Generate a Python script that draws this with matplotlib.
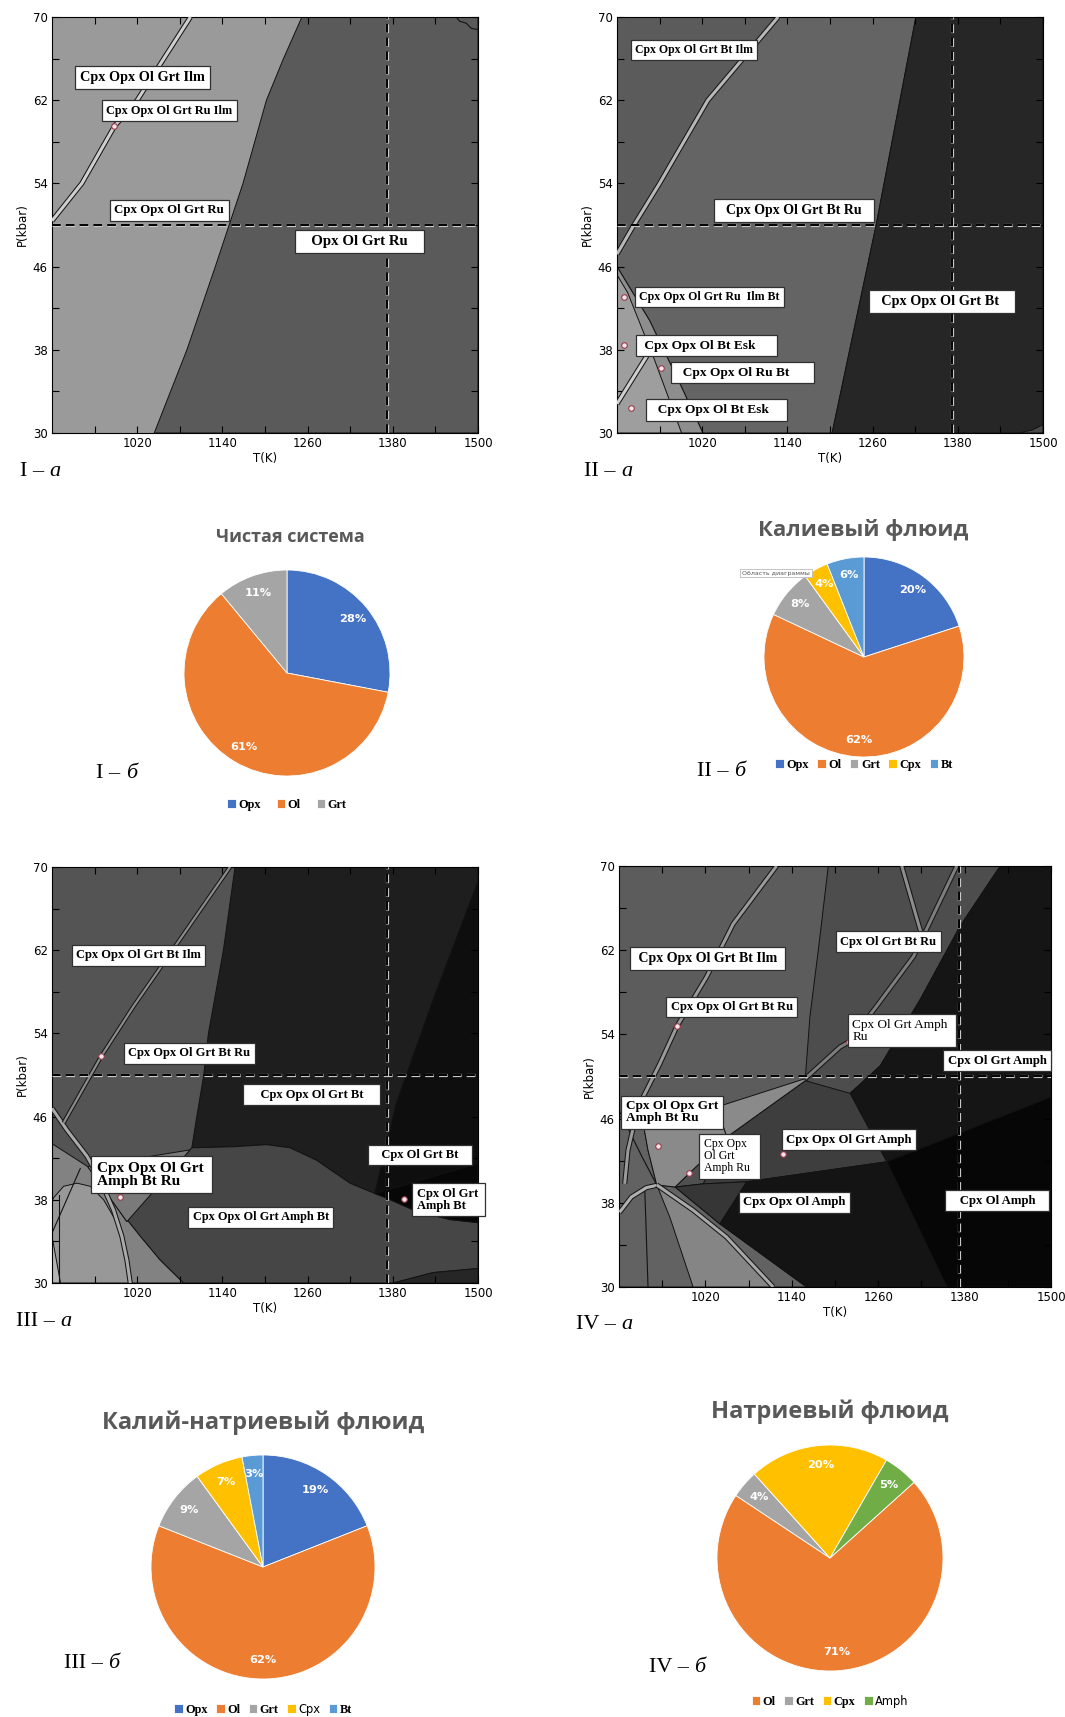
import matplotlib
matplotlib.use('Agg')
import matplotlib.pyplot as plt
import matplotlib.patheffects as pe
from matplotlib.text import Annotation

W, H = 1065, 1717

# ---------- diagram I : pure system (T, P points of phase boundaries) ----------
I_opx_edge = [(1044, 30), (1090, 38), (1130, 46), (1169, 54), (1202, 62), (1226, 66), (1252, 70)]
I_ilm_band = [(900, 50.4), (942, 54), (988, 59.5), (1020, 62), (1095, 70)]
I_corner = [(1469.5, 70), (1474, 69.6), (1483.6, 69.4), (1490.6, 68.9), (1500, 68.8)]
I_points = [(988, 59.5)]
I_labels = [(1027.0, 64.2, 'Cpx Opx Ol Grt Ilm', 10.3, True),
            (1065.2, 61.0, 'Cpx Opx Ol Grt Ru Ilm', 8.8, True),
            (1065.2, 51.4, 'Cpx Opx Ol Grt Ru', 9.3, True),
            (1333.1, 48.4, '   Opx Ol Grt Ru   ', 10.7, True)]

# ---------- diagram II : potassic fluid ----------
II_bt_edge = [(1203, 30), (1265, 50), (1321, 70)]
II_ilm_band = [(900, 47.2), (923, 49.9), (960, 54), (1028, 62), (1127, 70)]
II_esk_outer = [(900, 46.0), (946, 40.8), (991, 34.4), (1021, 30)]
II_esk_inner = [(900, 45.2), (915, 43.5), (953, 37), (991, 30)]
II_esk_band = [(900, 32.8), (953, 38.6)]
II_corner = [(1467, 30), (1485, 30.3), (1500, 30.8)]
II_points = [(909.4, 43.1), (909.4, 38.5), (962.4, 36.25), (919.2, 32.4)]
II_labels = [(1008.5, 66.8, 'Cpx Opx Ol Grt Bt Ilm', 8.5, True),
             (1149.3, 51.4, '  Cpx Opx Ol Grt Bt Ru  ', 10, True),
             (1357.7, 42.6, '  Cpx Opx Ol Grt Bt   ', 10.3, True),
             (1030.5, 43.05, 'Cpx Opx Ol Grt Ru  Ilm Bt', 8.6, True),
             (1025.8, 38.4, ' Cpx Opx Ol Bt Esk     ', 9.6, True),
             (1076.5, 35.8, '  Cpx Opx Ol Ru Bt      ', 9.6, True),
             (1040.4, 32.2, '  Cpx Opx Ol Bt Esk    ', 9.6, True)]

# ---------- diagram III : potassium-sodium fluid ----------
III_opx_edge = [(1157.8, 70), (1141.4, 62), (1120.3, 54), (1113.3, 49.8), (1103.9, 46), (1096.9, 43.0)]
III_amph_top = [(1005.5, 36.1), (1096.9, 43.0), (1155.5, 43.1), (1202.3, 43.3), (1235.2, 43.0),
                (1272.7, 41.8), (1319.5, 39.6), (1354.7, 38.6), (1366.4, 38.3), (1413.3, 36.9),
                (1460.2, 36.1), (1500, 35.8)]
III_opx_out = [(1354.7, 38.6), (1385.2, 47.3), (1436.7, 57.2), (1500, 68.6)]
III_bt_edge = [(1354.7, 38.6), (1500, 41.5)]
III_amph_left = [(1085.2, 30), (1052.3, 32.2), (1024.2, 34.5), (1005.5, 36.1)]
III_low_edge = [(1380.5, 30), (1436.7, 31.0), (1500, 31.4)]
III_ru_wedge = [(950.2, 41.2), (1094.5, 42.8), (1005.5, 35.9)]
III_left_top = [(900, 43.4)]
III_arch = [(900, 37.8), (902.3, 38.2), (916.4, 39.3), (935.2, 39.6), (953.9, 39.3), (972.7, 38.0),
            (991.4, 35.8), (1003.1, 33.2), (1012.5, 30)]
III_desc = [(900, 46.8), (921.1, 44.7), (949.2, 42.2), (968, 39.9), (986.7, 37.0), (998.4, 34.5),
            (1005.5, 32.2), (1010.2, 30)]
III_ilm_band = [(916.4, 45.4), (969.4, 51.8), (1014.8, 56.6), (1075.8, 62.6), (1150.8, 70)]
III_rise = [(900, 34.8), (939.8, 41.0)]
III_vert = [(909.4, 38.5), (909.4, 30)]
III_corner = [(900, 34.5), (912, 30), (900, 30)]
III_points = [(969.4, 51.8), (996, 38.3), (1395.5, 38.1)]
III_labels = [(1022, 61.5, 'Cpx Opx Ol Grt Bt Ilm', 9.0, True),
              (1093.6, 52.1, 'Cpx Opx Ol Grt Bt Ru', 9.0, True),
              (1266, 48.1, '    Cpx Opx Ol Grt Bt    ', 9.0, True),
              (1418, 42.3, '   Cpx Ol Grt Bt   ', 9.0, True),
              (1458.8, 38.0, 'Cpx Ol Grt \nAmph Bt', 9.0, True),
              (1040.6, 40.4, 'Cpx Opx Ol Grt \nAmph Bt Ru', 11.0, True),
              (1194, 36.3, 'Cpx Opx Ol Grt Amph Bt', 8.8, True)]

# ---------- diagram IV : sodic fluid ----------
IV_ru_edge = [(1190.7, 70), (1176.8, 62.0), (1165.2, 55.7), (1158.7, 49.8)]
IV_amph_edge = [(1429.5, 70), (1373.9, 64.3), (1318.2, 57.3), (1262.6, 51.0), (1220.9, 48.4), (1271.9, 41.9)]
IV_grt_edge = [(1271.9, 41.9), (1500, 48.05)]
IV_opx_edge = [(1271.9, 41.9), (1355.3, 30)]
IV_grt_amph = [(1049.8, 44.25), (1158.7, 49.6), (1220.9, 48.4), (1271.9, 41.9), (1077.1, 40.0), (1016.8, 39.8)]
IV_amph_ru = [(1049.8, 44.25), (1016.8, 39.8), (977.9, 39.5)]
IV_opx_amph = [(1077.1, 40.0), (1271.9, 41.9), (1355.3, 30), (1160.6, 30), (1040, 36.0)]
IV_mid = [(977.9, 39.5), (1016.8, 39.8), (1077.1, 40.0), (1040, 36.0)]
IV_bt_ru = [(931.1, 46.5), (1035.9, 47.1), (1049.8, 44.25), (977.9, 39.5), (952.4, 39.7), (940.3, 43.0)]
IV_wedge = [(1158.7, 49.8), (1035.9, 47.1), (1049.8, 44.25), (1158.7, 49.6)]
IV_low = [(900, 46.15), (931.1, 46.5), (940.3, 43.0), (952.4, 39.7), (977.9, 39.5), (1040, 36.0),
          (1160.6, 30), (900, 30)]
IV_fan = [(952.4, 39.7), (1002.9, 37.3), (1049.3, 34.75), (1114.2, 30), (1002.9, 30), (970.5, 36.65)]
IV_fan_band = [(952.4, 39.7), (1002.9, 37.3), (1049.3, 34.75), (1114.2, 30)]
IV_arc = [(900.9, 37.1), (917.2, 38.55), (938.0, 39.44), (952.4, 39.66)]
IV_vert = [(935.7, 39.5), (940.3, 30)]
IV_desc = [(900, 46.8), (931, 42.5), (952.4, 39.7)]
IV_ilm_band = [(907.9, 39.8), (912.5, 43.0), (923.2, 46.15), (928.7, 47.4), (956.6, 51.2), (980.7, 54.8),
               (1021.5, 59.45), (1058.6, 64.5), (1118.9, 70)]
IV_ru_band = [(1158.7, 49.8), (1207, 52.8), (1219.9, 53.3), (1258, 56.7), (1309, 61.4), (1369.2, 70)]
IV_bt_band = [(1292.7, 70), (1318.2, 63.95), (1322, 63.3)]
IV_points = [(980.7, 54.8), (1219.9, 53.3), (954.7, 43.4), (997.8, 40.8), (1127.7, 42.6)]
IV_labels = [(1022.9, 61.2, ' Cpx Opx Ol Grt Bt Ilm ', 10.0, True),
             (1056.3, 56.6, 'Cpx Opx Ol Grt Bt Ru', 9.0, True),
             (1274.2, 62.8, 'Cpx Ol Grt Bt Ru', 9.0, True),
             (1292.7, 54.35, 'Cpx Ol Grt Amph \nRu', 9.5, False),
             (1425.3, 51.5, 'Cpx Ol Grt Amph', 9.2, True),
             (973.7, 46.6, 'Cpx Ol Opx Grt\nAmph Bt Ru', 9.5, True),
             (1053.5, 42.4, 'Cpx Opx   \nOl Grt\nAmph Ru ', 8.5, False),
             (1219.5, 44.0, 'Cpx Opx Ol Grt Amph', 9.2, True),
             (1143.9, 38.05, 'Cpx Opx Ol Amph', 9.2, True),
             (1425.3, 38.2, '   Cpx Ol Amph   ', 9.2, True)]

P_line = 50
T_line = 1372

# ---------- pie charts ----------
pie1_names = ['Opx', 'Ol', 'Grt']
pie1_values = [28, 61, 11]
pie2_names = ['Opx', 'Ol', 'Grt', 'Cpx', 'Bt']
pie2_values = [20, 62, 8, 4, 6]
pie3_names = ['Opx', 'Ol', 'Grt', 'Cpx', 'Bt']
pie3_values = [19, 62, 9, 7, 3]
pie4_names = ['Ol', 'Grt', 'Cpx', 'Amph']
pie4_values = [71, 4, 20, 5]

mineral_colors = {'Opx': '#4472C4', 'Ol': '#ED7D31', 'Grt': '#A5A5A5',
                  'Cpx': '#FFC000', 'Bt': '#5B9BD5', 'Amph': '#70AD47'}

SERIF = 'Liberation Serif'

fig = plt.figure(figsize=(W / 100, H / 100), dpi=100)
fig.patch.set_facecolor('white')


def px_axes(x0, y0, x1, y1):
    return fig.add_axes([x0 / W, 1 - y1 / H, (x1 - x0) / W, (y1 - y0) / H])


def xy(pts):
    return [p[0] for p in pts], [p[1] for p in pts]


def region(ax, pts, color):
    t, p = xy(pts)
    ax.fill(t, p, facecolor=color, edgecolor='#121212', lw=0.7, zorder=1)


def line(ax, pts, color='#121212', lw=0.8):
    t, p = xy(pts)
    ax.plot(t, p, color=color, lw=lw, zorder=2)


def band(ax, pts, fill='#c4c4c4', width=2.2):
    t, p = xy(pts)
    ax.plot(t, p, color=fill, lw=width, solid_capstyle='butt', zorder=3,
            path_effects=[pe.Stroke(linewidth=width + 1.5, foreground='#161616'), pe.Normal()])


def setup(ax, bg):
    ax.set_facecolor(bg)
    ax.set_xlim(900, 1500)
    ax.set_ylim(30, 70)
    ax.set_xticks([1020, 1140, 1260, 1380, 1500])
    ax.set_xticks([960, 1080, 1200, 1320, 1440], minor=True)
    ax.set_yticks([30, 38, 46, 54, 62, 70])
    ax.set_yticks([34, 42, 50, 58, 66], minor=True)
    ax.tick_params(which='both', direction='in', top=True, right=True, length=5, width=0.8,
                   labelsize=8.5, pad=3)
    ax.set_xlabel('T(K)', fontsize=8.5, labelpad=1)
    ax.set_ylabel('P(kbar)', fontsize=8.5, labelpad=3)
    for s in ax.spines.values():
        s.set_linewidth(0.8)


def finish(ax, points, labels):
    dash = dict(color='black', lw=1.4, ls=(0, (4.5, 2.6)), zorder=4,
                path_effects=[pe.Stroke(linewidth=2.3, foreground='#c8c8c8'), pe.Normal()])
    ax.axhline(P_line, **dash)
    ax.axvline(T_line, **dash)
    t, p = xy(points)
    ax.plot(t, p, 'o', ms=4, mfc='#f4e6e8', mec='#9a3a4a', mew=0.8, zorder=5)
    for T, P, s, size, bold in labels:
        ax.text(T, P, s, ha='center', va='center', multialignment='left', fontsize=size,
                family=SERIF, weight='bold' if bold else 'normal', zorder=6, linespacing=1.0,
                bbox=dict(boxstyle='square,pad=0.35', fc='white', ec='#303030', lw=0.9))


# diagram I
ax1 = px_axes(52, 17, 478, 433)
setup(ax1, '#9a9a9a')
region(ax1, I_opx_edge + [(1500, 70), (1500, 30)], '#5a5a5a')
band(ax1, I_ilm_band, fill='#cfcfcf')
line(ax1, I_corner)
finish(ax1, I_points, I_labels)

# diagram II
ax2 = px_axes(617, 17, 1043, 433)
setup(ax2, '#5b5b5b')
region(ax2, II_ilm_band + II_bt_edge[::-1] + II_esk_outer[::-1], '#646464')
region(ax2, II_bt_edge + [(1500, 70), (1500, 30)], '#262626')
region(ax2, II_corner + [(1500, 30)], '#4a4a4a')
region(ax2, II_esk_outer + [(900, 30)], '#8e8e8e')
region(ax2, II_esk_inner + [(900, 30)], '#9e9e9e')
band(ax2, II_ilm_band, fill='#b8b8b8')
band(ax2, II_esk_band, fill='#d0d0d0')
finish(ax2, II_points, II_labels)

# diagram III
ax3 = px_axes(52, 867, 478, 1283)
setup(ax3, '#545454')
region(ax3, III_opx_edge + III_amph_top[2:8] + III_opx_out[1:] + [(1500, 70)], '#1e1e1e')
region(ax3, III_opx_out + [(1500, 41.5)], '#0e0e0e')
region(ax3, III_amph_top + [(1500, 31.4)] + III_low_edge[::-1] + III_amph_left, '#464646')
region(ax3, III_bt_edge + III_amph_top[:6:-1], '#070707')
region(ax3, III_low_edge + [(1500, 30)], '#262626')
region(ax3, III_left_top + III_ru_wedge[:1] + III_ru_wedge[2:] + III_amph_left[::-1] + [(900, 30)], '#828282')
region(ax3, III_ru_wedge, '#7a7a7a')
region(ax3, III_arch + [(900, 30)], '#989898')
region(ax3, III_corner, '#b4b4b4')
line(ax3, III_rise)
line(ax3, III_vert)
band(ax3, III_desc, fill='#a9a9a9')
band(ax3, III_ilm_band, fill='#8c8c8c', width=1.6)
finish(ax3, III_points, III_labels)

# diagram IV
ax4 = px_axes(619, 866, 1051, 1287)
setup(ax4, '#5c5c5c')
region(ax4, IV_ru_edge + IV_amph_edge[::-1], '#4d4d4d')
region(ax4, IV_amph_edge + [(1500, 48.05), (1500, 70)], '#151515')
region(ax4, IV_grt_edge + [(1500, 30)] + IV_opx_edge[::-1], '#060606')
region(ax4, IV_low, '#626262')
region(ax4, IV_fan, '#858585')
region(ax4, IV_grt_amph, '#3e3e3e')
region(ax4, IV_amph_ru, '#505050')
region(ax4, IV_opx_amph, '#141414')
region(ax4, IV_mid, '#363636')
region(ax4, IV_bt_ru, '#8a8a8a')
region(ax4, IV_wedge, '#8a8a8a')
line(ax4, IV_vert)
line(ax4, IV_desc)
band(ax4, IV_arc, fill='#b0b0b0')
band(ax4, IV_fan_band, fill='#a8a8a8')
band(ax4, IV_ilm_band, fill='#9a9a9a')
band(ax4, IV_ru_band, fill='#7e7e7e')
band(ax4, IV_bt_band, fill='#8e8e8e')
finish(ax4, IV_points, IV_labels)


def pie(cx, cy, r, names, values, title, title_xy, title_size, legend_y, start=90, colspace=0.7):
    ax = px_axes(cx - r, cy - r, cx + r, cy + r)
    wedges, _, autotexts = ax.pie(values, colors=[mineral_colors[n] for n in names],
                                  startangle=start, counterclock=False, radius=1,
                                  autopct=lambda v: '%d%%' % round(v), pctdistance=0.83,
                                  wedgeprops=dict(edgecolor='white', linewidth=0.6),
                                  textprops=dict(color='white', fontsize=8.2, weight='bold'))
    ax.set_xlim(-1, 1)
    ax.set_ylim(-1, 1)
    fig.text(title_xy[0] / W, 1 - title_xy[1] / H, title, ha='center', va='center',
             fontsize=title_size, weight='bold', color='#595959', family='Open Sans')
    leg = ax.legend(wedges, names, loc='center', bbox_to_anchor=(cx / W, 1 - legend_y / H),
                    bbox_transform=fig.transFigure, ncol=len(names), frameon=False,
                    handlelength=0.7, handleheight=0.7, handletextpad=0.2, columnspacing=colspace,
                    prop=dict(family=SERIF, weight='bold', size=8.8))
    return ax, leg


pie(287, 673, 103, pie1_names, pie1_values, 'Чистая система', (290, 537), 13, 805, colspace=1.3)
pie(864, 657, 100, pie2_names, pie2_values, 'Калиевый флюид', (863, 530), 16, 765)
ax_p3, leg3 = pie(263, 1567, 112, pie3_names, pie3_values, 'Калий-натриевый флюид', (263, 1423), 17, 1709)
ax_p4, leg4 = pie(830, 1558, 113, pie4_names, pie4_values, 'Натриевый флюид', (830, 1412), 17, 1701,
                  start=42)
for leg, i in ((leg3, 3), (leg4, 3)):
    txt = leg.get_texts()[i]
    txt.set_fontfamily('DejaVu Sans')
    txt.set_fontweight('normal')
    txt.set_fontsize(8.3)

# chart-area tooltip left over on the potassic pie
fig.text(742 / W, 1 - 573 / H, 'Область диаграммы', fontsize=4.5, color='#555555',
         ha='left', va='center',
         bbox=dict(boxstyle='square,pad=0.3', fc='white', ec='#bbbbbb', lw=0.6))


def caption(x, y, roman, letter):
    t = fig.text(x / W, 1 - y / H, roman + ' – ', fontsize=16, family=SERIF, va='center')
    fig.add_artist(Annotation(letter, xy=(1, 0), xycoords=t, va='bottom', ha='left',
                              fontsize=16, family=SERIF, style='italic'))


caption(20, 471, 'I', 'а')
caption(584, 471, 'II', 'а')
caption(96, 773, 'I', 'б')
caption(697, 771, 'II', 'б')
caption(16, 1322, 'III', 'а')
caption(576, 1324, 'IV', 'а')
caption(64, 1663, 'III', 'б')
caption(649, 1667, 'IV', 'б')

fig.savefig('out.png', dpi=100, facecolor='white')
